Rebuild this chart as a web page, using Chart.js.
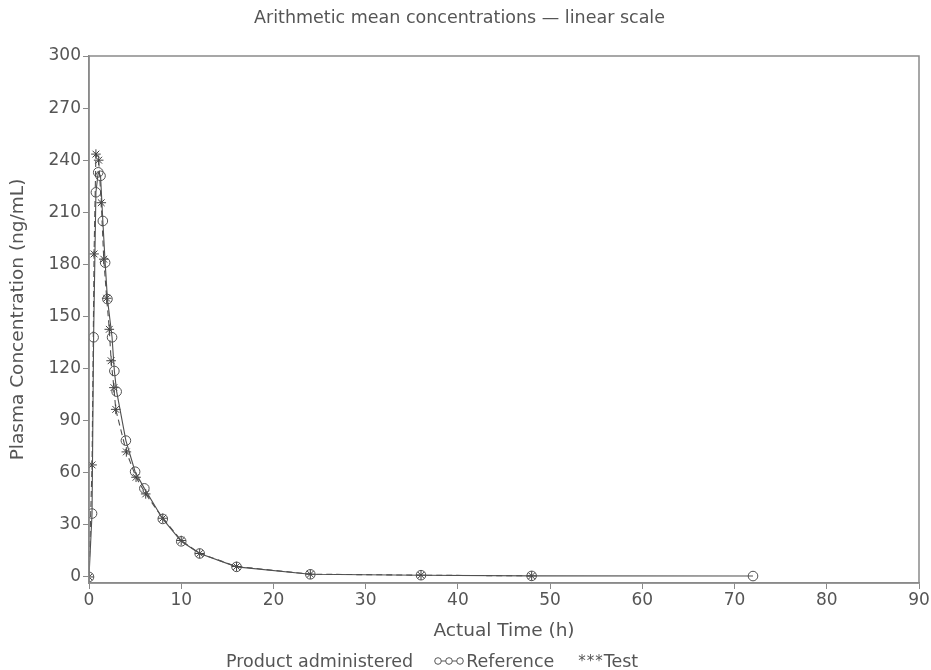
<!DOCTYPE html>
<html>
<head>
<meta charset="utf-8">
<script src="https://cdn.jsdelivr.net/npm/chart.js@4"></script>
<style>
  html, body { margin: 0; padding: 0; background: #fff; }
  #wrap { position: relative; width: 931px; height: 670px; }
  #legend { position: absolute; left: 226px; top: 651px; font: 17.5px "DejaVu Sans", sans-serif; color: #555; white-space: nowrap; display: flex; align-items: center; }
  #legend .gap { display: inline-block; width: 20px; }
</style>
</head>
<body>
<div id="wrap">
  <canvas id="c" width="931" height="670"></canvas>
  <div id="legend">
    <span>Product administered</span><span class="gap"></span>
    <svg width="32" height="12" style="margin-right:1px"><line x1="4" y1="6" x2="28" y2="6" stroke="#555" stroke-width="1"/><circle cx="5" cy="6" r="3.3" fill="#fff" stroke="#555"/><circle cx="16" cy="6" r="3.3" fill="#fff" stroke="#555"/><circle cx="27" cy="6" r="3.3" fill="#fff" stroke="#555"/></svg>
    <span>Reference</span><span class="gap" style="width:24px"></span>
    <span style="font-size:15px;letter-spacing:1px">***</span><span>Test</span>
  </div>
</div>
<script>
const refTime = [0, 0.33, 0.5, 0.75, 1, 1.25, 1.5, 1.75, 2, 2.5, 2.75, 3, 4, 5, 6, 8, 10, 12, 16, 24, 36, 48, 72];
const refConc = [0, 36.5, 138, 221.5, 233, 231, 205, 181, 160, 138, 118.6, 106.7, 78.5, 60.6, 51, 33.4, 20.5, 13.5, 5.8, 1.5, 1.0, 0.6, 0.5];
const testTime = [0, 0.33, 0.55, 0.75, 1.05, 1.33, 1.6, 1.92, 2.2, 2.4, 2.7, 2.9, 4.05, 5.1, 6.15, 8, 10, 12, 16, 24, 36, 48];
const testConc = [0, 64.5, 186, 243.5, 240, 215.5, 183, 160.5, 142.6, 124.5, 109, 96.5, 72, 57.4, 47.8, 33.8, 21, 13.5, 6, 1.6, 1.0, 0.6];
const xTicks = [0, 10, 20, 30, 40, 50, 60, 70, 80, 90];
const yTicks = [0, 30, 60, 90, 120, 150, 180, 210, 240, 270, 300];
const titleText = 'Arithmetic mean concentrations \u2014 linear scale';
const xTitle = 'Actual Time (h)';
const yTitle = 'Plasma Concentration (ng/mL)';

const FONT = '"DejaVu Sans", sans-serif';
const TXT = '#555';
const FRAME = '#8a8a8a';

const pts = (t, c) => t.map((v, i) => ({ x: v, y: c[i] }));

const frame = {
  id: 'frame',
  afterDatasetsDraw(chart) {
    const { ctx, chartArea: a } = chart;
    ctx.save();
    ctx.strokeStyle = FRAME;
    ctx.lineWidth = 1.5;
    ctx.strokeRect(a.left, a.top, a.right - a.left, a.bottom - a.top);
    ctx.restore();
  }
};

new Chart(document.getElementById('c'), {
  type: 'scatter',
  data: {
    datasets: [
      {
        label: 'Reference',
        data: pts(refTime, refConc),
        showLine: true,
        borderColor: '#505050',
        borderWidth: 1.1,
        pointStyle: 'circle',
        pointRadius: 4.8,
        pointBorderColor: '#505050',
        pointBackgroundColor: 'rgba(255,255,255,0)',
        pointBorderWidth: 1
      },
      {
        label: 'Test',
        data: pts(testTime, testConc),
        showLine: true,
        borderColor: '#505050',
        borderWidth: 1.1,
        borderDash: [6, 4],
        pointStyle: 'star',
        pointRadius: 4.8,
        pointBorderColor: '#404040',
        pointBackgroundColor: '#404040',
        pointBorderWidth: 1
      }
    ]
  },
  options: {
    responsive: false,
    animation: false,
    layout: { padding: { left: 0, right: 12, top: 0, bottom: 0 } },
    plugins: {
      legend: { display: false },
      tooltip: { enabled: false },
      title: {
        display: true,
        text: titleText,
        color: TXT,
        font: { family: FONT, size: 17.5, weight: 'normal' },
        padding: { top: 7.5, bottom: 27.5 }
      }
    },
    scales: {
      x: {
        type: 'linear',
        min: 0, max: 90,
        afterBuildTicks: s => { s.ticks = xTicks.map(v => ({ value: v })); },
        afterFit: s => { s.height = 87; },
        ticks: { color: TXT, font: { family: FONT, size: 17 }, padding: 1, maxRotation: 0 },
        grid: { display: true, drawOnChartArea: false, drawTicks: true, tickLength: 6, color: FRAME },
        border: { display: true, color: FRAME, width: 1.5 },
        title: { display: true, text: xTitle, color: TXT, font: { family: FONT, size: 18.5 }, padding: { top: 0, bottom: 28 } }
      },
      y: {
        type: 'linear',
        min: -3.5, max: 300,
        afterBuildTicks: s => { s.ticks = yTicks.map(v => ({ value: v })); },
        afterFit: s => { s.width = 89; },
        ticks: { color: TXT, font: { family: FONT, size: 17 }, padding: 2 },
        grid: { display: true, drawOnChartArea: false, drawTicks: true, tickLength: 6, color: FRAME },
        border: { display: true, color: FRAME, width: 1.5 },
        title: { display: true, text: yTitle, color: TXT, font: { family: FONT, size: 18.5 }, padding: { top: 7.5, bottom: 0 } }
      }
    }
  },
  plugins: [frame]
});
</script>
</body>
</html>
